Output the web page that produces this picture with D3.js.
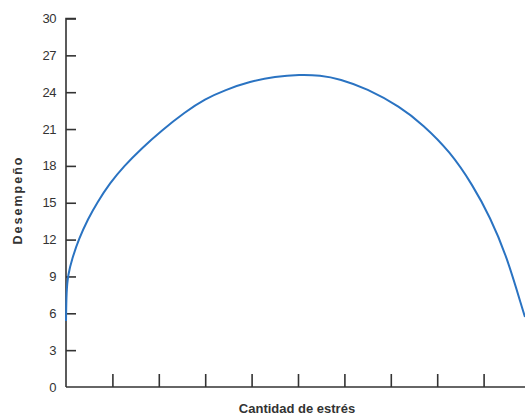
<!DOCTYPE html>
<html><head><meta charset="utf-8">
<script src="https://cdn.jsdelivr.net/npm/d3@7"></script>
<style>body{margin:0;background:#fff}svg{display:block}</style>
</head><body>
<div id="chart"></div>
<script>
const stress = [0, 0.01, 0.043, 0.129, 0.28, 0.474, 0.668, 0.948, 1.25, 1.638, 2.047, 2.565, 2.996, 3.427, 3.966, 4.504, 5.043, 5.474, 5.905, 6.48, 7.2, 7.694, 8.276, 8.772, 9.138, 9.498, 9.849, 9.892];
const performance = [5.37, 7.82, 9.12, 10.42, 12.08, 13.68, 15.0, 16.61, 17.99, 19.46, 20.84, 22.39, 23.45, 24.18, 24.87, 25.28, 25.44, 25.38, 25.08, 24.3, 22.82, 21.35, 19.17, 16.4, 13.84, 10.66, 6.19, 5.7];
const yTicks = [0, 3, 6, 9, 12, 15, 18, 21, 24, 27, 30];
const xTicks = [1, 2, 3, 4, 5, 6, 7, 8, 9];
const xLabel = "Cantidad de estrés";
const yLabel = "Desempeño";

const W = 525, H = 418;
const svg = d3.select("#chart").append("svg").attr("width", W).attr("height", H);
const x = d3.scaleLinear().domain([0, 10]).range([66, 530]);
const y = d3.scaleLinear().domain([0, 30]).range([387, 18.5]);

const axisColor = "#333";
// y axis
const yAxis = svg.append("g").attr("transform", `translate(${x(0)},0)`)
  .call(d3.axisRight(y).tickValues(yTicks).tickSize(10).tickFormat(() => ""));
yAxis.select(".domain").attr("d", `M10,${y(30)}H0V${y(0)}`);
yAxis.selectAll("path,line").attr("stroke", axisColor).attr("stroke-width", 1.6);
yAxis.selectAll(".tick").filter(d => d === 0).remove();
svg.append("g").selectAll("text").data(yTicks).join("text")
  .attr("x", 56).attr("y", d => y(d)).attr("dy", "0.35em")
  .attr("text-anchor", "end")
  .attr("font-family", "Liberation Sans, Arial, sans-serif")
  .attr("font-size", 13).attr("fill", "#333").attr("letter-spacing", "-0.5")
  .text(d => d);

// x axis
const xAxis = svg.append("g").attr("transform", `translate(0,${y(0)})`)
  .call(d3.axisTop(x).tickValues(xTicks).tickSize(13).tickFormat(() => ""));
xAxis.select(".domain").attr("d", `M${x(0)},0H${W}`);
xAxis.selectAll("path,line").attr("stroke", axisColor).attr("stroke-width", 1.6);

// curve
const line = d3.line().x((d, i) => x(stress[i])).y(d => y(d)).curve(d3.curveBasis);
svg.append("path").datum(performance).attr("d", line)
  .attr("fill", "none").attr("stroke", "#2a73c2").attr("stroke-width", 2);

// labels
svg.append("text").attr("x", 297).attr("y", 413).attr("text-anchor", "middle")
  .attr("font-family", "Liberation Sans, Arial, sans-serif").attr("font-weight", "bold")
  .attr("font-size", 13).attr("fill", "#333").text(xLabel);
svg.append("text").attr("transform", "translate(22,200) rotate(-90)").attr("text-anchor", "middle")
  .attr("font-family", "Liberation Sans, Arial, sans-serif").attr("font-weight", "bold")
  .attr("font-size", 12.5).attr("fill", "#333").attr("letter-spacing", "2").text(yLabel);
</script>
</body></html>
